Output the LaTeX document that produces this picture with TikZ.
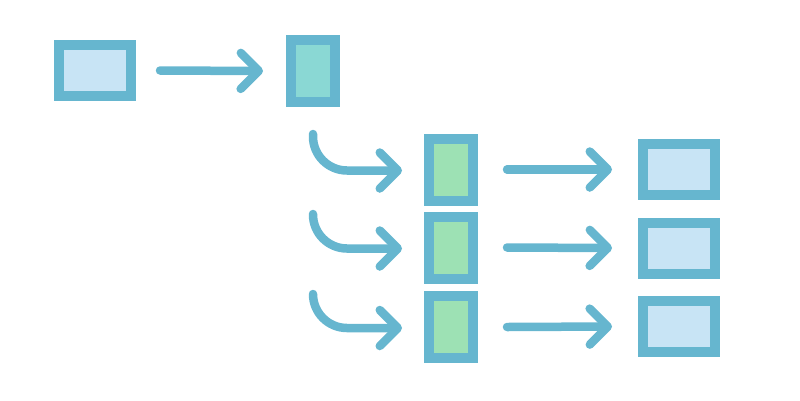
\documentclass[tikz,border=0pt]{standalone}
\usetikzlibrary{arrows.meta,calc}
\definecolor{edge}{HTML}{66B6CF}
\definecolor{lightblue}{HTML}{C8E4F5}
\definecolor{tealfill}{HTML}{8AD8D4}
\definecolor{greenfill}{HTML}{9DE1B4}
\begin{document}
\begin{tikzpicture}[x=1pt,y=-1pt,
  box/.style={draw=edge, line width=10pt, inner sep=0pt, outer sep=5pt,
    minimum width=72pt, minimum height=51pt, fill=lightblue},
  tall/.style={box, minimum width=44pt, minimum height=62pt},
  conn/.style={draw=edge, line width=8.5pt, line cap=round,
    -{Straight Barb[length=18pt,width=36pt,round]}}
]
\useasboundingbox (0,0) rectangle (800,400);
\node[box] (a) at (95,70.5) {};
\node[tall, fill=tealfill] (b) at (313,71) {};
\node[tall, fill=greenfill] (m1) at (451,169.5) {};
\node[tall, fill=greenfill] (m2) at (451,247.5) {};
\node[tall, fill=greenfill] (m3) at (451,327) {};
\node[box] (r1) at (679,169.5) {};
\node[box] (r2) at (679,248) {};
\node[box] (r3) at (679,326.5) {};
\coordinate (s1) at ($(b.south)+(0,27)$);
\coordinate (s2) at (313,214);
\coordinate (s3) at (313,294);
\draw[conn] ($(a.east)+(24,0)$) -- ($(b.west)+(-23,0)$);
\draw[conn, rounded corners=34pt] (s1) |- ($(m1.west)+(-22,1)$);
\draw[conn, rounded corners=34pt] (s2) |- ($(m2.west)+(-22,1)$);
\draw[conn, rounded corners=34pt] (s3) |- ($(m3.west)+(-22,1)$);
\draw[conn] ($(m1.east)+(29,0)$) -- ($(r1.west)+(-26,0)$);
\draw[conn] ($(m2.east)+(29,0)$) -- ($(r2.west)+(-26,0)$);
\draw[conn] ($(m3.east)+(29,0)$) -- ($(r3.west)+(-26,0)$);
\end{tikzpicture}
\end{document}
